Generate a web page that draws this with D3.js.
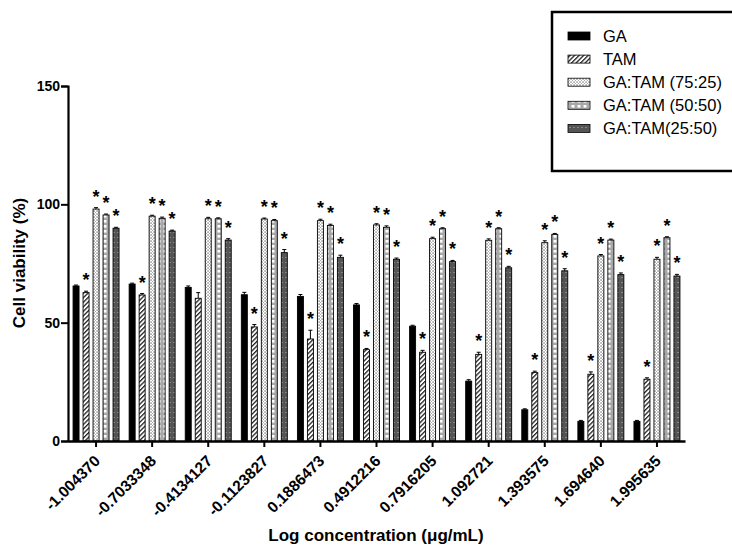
<!DOCTYPE html>
<html><head><meta charset="utf-8">
<script src="https://cdn.jsdelivr.net/npm/d3@7"></script>
<style>body{margin:0;background:#fff}svg{display:block;font-family:"Liberation Sans",Arial,sans-serif}</style>
</head><body><svg id="c" width="732" height="547"></svg>
<script>
const categories = ["-1.004370","-0.7033348","-0.4134127","-0.1123827","0.1886473","0.4912216","0.7916205","1.092721","1.393575","1.694640","1.995635"];
const seriesNames = ["GA","TAM","GA:TAM (75:25)","GA:TAM (50:50)","GA:TAM(25:50)"];
const GA      = [65.5, 66.3, 64.9, 61.8, 61.1, 57.5, 48.5, 25.3, 13.2, 8.3, 8.3];
const TAM     = [62.7, 61.7, 60.3, 48.2, 43.1, 38.6, 37.5, 36.6, 28.9, 28.2, 26.1];
const M75_25  = [98.0, 95.0, 93.9, 93.8, 93.1, 91.3, 85.5, 84.8, 83.8, 78.2, 76.8];
const M50_50  = [95.5, 94.1, 93.9, 93.1, 91.1, 90.3, 89.7, 89.7, 87.3, 84.9, 85.9];
const M25_50  = [89.9, 88.7, 84.9, 79.6, 77.6, 76.8, 75.8, 73.2, 71.9, 70.3, 69.7];
const errGA     = [0.4, 0.4, 0.6, 1.0, 0.8, 0.6, 0.4, 0.6, 0.4, 0.4, 0.4];
const errTAM    = [0.6, 0.6, 2.4, 1.0, 3.7, 0.5, 0.8, 0.9, 0.6, 1.0, 0.6];
const err75_25  = [0.6, 0.4, 0.6, 0.4, 0.6, 0.5, 0.6, 0.6, 0.8, 0.6, 0.8];
const err50_50  = [0.4, 0.5, 0.4, 0.5, 0.5, 0.6, 0.4, 0.4, 0.4, 0.4, 0.4];
const err25_50  = [0.4, 0.4, 0.6, 1.3, 0.9, 0.5, 0.5, 0.6, 0.9, 0.7, 0.7];
const sigTAM    = [1,1,0,1,1,1,1,1,1,1,1];
const sigMix    = [1,1,1,1,1,1,1,1,1,1,1];
const yTicks = [0, 50, 100, 150];
const xTitle = "Log concentration (\u03bcg/mL)";
const yTitle = "Cell viability (%)";

const series = [
  {name: seriesNames[0], vals: GA, err: errGA, sig: categories.map(() => 0), fill: "#000"},
  {name: seriesNames[1], vals: TAM, err: errTAM, sig: sigTAM, fill: "url(#hatch)"},
  {name: seriesNames[2], vals: M75_25, err: err75_25, sig: sigMix, fill: "url(#dots)"},
  {name: seriesNames[3], vals: M50_50, err: err50_50, sig: sigMix, fill: "url(#checker)"},
  {name: seriesNames[4], vals: M25_50, err: err25_50, sig: sigMix, fill: "url(#dark)"}
];

const svg = d3.select("#c");
const defs = svg.append("defs");
let p = defs.append("pattern").attr("id","hatch").attr("patternUnits","userSpaceOnUse").attr("width",3.2).attr("height",3.2).attr("patternTransform","rotate(45)");
p.append("rect").attr("width",3.2).attr("height",3.2).attr("fill","#fff");
p.append("rect").attr("width",1.3).attr("height",3.2).attr("fill","#222");
p = defs.append("pattern").attr("id","dots").attr("patternUnits","userSpaceOnUse").attr("width",3).attr("height",3);
p.append("rect").attr("width",3).attr("height",3).attr("fill","#fff");
p.append("rect").attr("x",0.5).attr("y",0.5).attr("width",1.1).attr("height",1.1).attr("fill","#333");
p.append("rect").attr("x",2).attr("y",2).attr("width",0.8).attr("height",0.8).attr("fill","#777");
p = defs.append("pattern").attr("id","checker").attr("patternUnits","userSpaceOnUse").attr("width",6).attr("height",5);
p.append("rect").attr("width",6).attr("height",5).attr("fill","#a8a8a8");
p.append("rect").attr("x",1.5).attr("y",0).attr("width",3).attr("height",2.6).attr("fill","#fff");
p = defs.append("pattern").attr("id","dark").attr("patternUnits","userSpaceOnUse").attr("width",4).attr("height",5);
p.append("rect").attr("width",4).attr("height",5).attr("fill","#555");
p.append("rect").attr("x",1.5).attr("y",2).attr("width",1).attr("height",1).attr("fill","#bbb");

const x0 = d3.scaleBand().domain(categories).range([68, 685]).paddingInner(0.1).paddingOuter(0.05);
const x1 = d3.scaleBand().domain(seriesNames).range([0, x0.bandwidth()]).paddingInner(0.4).paddingOuter(0.225);
const y = d3.scaleLinear().domain([0, 150]).range([441, 86]);

const g = svg.append("g");
series.forEach(s => {
  const gs = g.append("g");
  categories.forEach((c, i) => {
    const bx = x0(c) + x1(s.name), bw = x1.bandwidth();
    const v = s.vals[i];
    const cx = bx + bw/2;
    const top = y(v + s.err[i]);
    gs.append("line").attr("x1",cx).attr("x2",cx).attr("y1",y(v)).attr("y2",top).attr("stroke","#000").attr("stroke-width",1);
    gs.append("line").attr("x1",cx-2).attr("x2",cx+2).attr("y1",top).attr("y2",top).attr("stroke","#000").attr("stroke-width",1);
    gs.append("rect").attr("x",bx).attr("y",y(v)).attr("width",bw).attr("height",y(0)-y(v))
      .attr("fill",s.fill).attr("stroke","#000").attr("stroke-width",0.9);
    if (s.sig[i]) {
      gs.append("text").attr("x",cx).attr("y",top-5).attr("text-anchor","middle")
        .attr("font-size",18).attr("font-weight","bold").text("*");
    }
  });
});

const yAxis = svg.append("g").attr("transform","translate(68,0)")
  .call(d3.axisLeft(y).tickValues(yTicks).tickSize(7).tickPadding(1));
yAxis.select(".domain").attr("stroke-width",2.2);
yAxis.selectAll(".tick line").attr("stroke-width",2);
yAxis.selectAll("text").attr("font-size",14).attr("font-weight","bold").attr("font-family","Liberation Sans, Arial, sans-serif");

const xAxis = svg.append("g").attr("transform","translate(0,441)")
  .call(d3.axisBottom(x0).tickSize(6).tickSizeOuter(0));
xAxis.select(".domain").attr("stroke-width",2.4);
xAxis.selectAll(".tick line").attr("stroke-width",2);
xAxis.selectAll("text").attr("font-size",15.5).attr("font-weight","bold").attr("font-family","Liberation Sans, Arial, sans-serif")
  .attr("text-anchor","end").attr("x",0).attr("y",0).attr("dy",0).attr("transform","translate(5,21) rotate(-45)");

svg.append("text").attr("x",376).attr("y",541).attr("text-anchor","middle")
  .attr("font-size",17).attr("font-weight","bold").text(xTitle);
svg.append("text").attr("transform","translate(25,263) rotate(-90)").attr("text-anchor","middle")
  .attr("font-size",17).attr("font-weight","bold").text(yTitle);

const lg = svg.append("g");
lg.append("rect").attr("x",552).attr("y",12).attr("width",190).attr("height",159)
  .attr("fill","#fff").attr("stroke","#000").attr("stroke-width",2.5);
series.forEach((s, i) => {
  const yy = 36 + i*23.1;
  lg.append("rect").attr("x",568).attr("y",yy-4).attr("width",22).attr("height",8)
    .attr("fill",s.fill).attr("stroke","#000").attr("stroke-width",0.8);
  lg.append("text").attr("x",603).attr("y",yy+6).attr("font-size",16.5).text(s.name);
});
</script></body></html>
